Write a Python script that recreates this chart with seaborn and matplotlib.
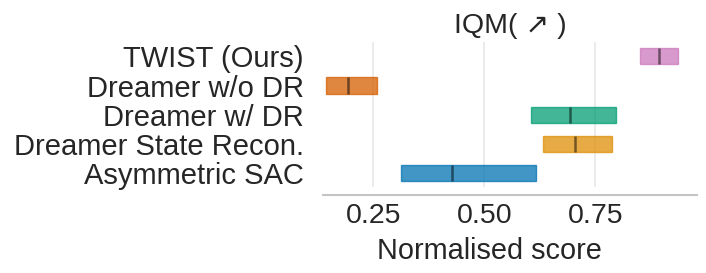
import matplotlib
matplotlib.use("Agg")
import matplotlib.pyplot as plt
import seaborn as sns

algorithms = ["Asymmetric SAC", "Dreamer State Recon.", "Dreamer w/ DR", "Dreamer w/o DR", "TWIST (Ours)"]
lower = [0.312, 0.633, 0.605, 0.143, 0.850]
upper = [0.616, 0.787, 0.796, 0.257, 0.936]
point = [0.426, 0.705, 0.693, 0.192, 0.893]
xticks = [0.25, 0.50, 0.75]

sns.set_style("white")
plt.rcParams["font.family"] = ["Liberation Sans", "DejaVu Sans"]

cb = sns.color_palette("colorblind")
colors = [cb[0], cb[1], cb[2], cb[3], cb[4]]

fig = plt.figure(figsize=(7.06, 2.73), dpi=100)
ax = fig.add_axes([0.458, 0.316, 0.529, 0.531])

for i, alg in enumerate(algorithms):
    ax.barh(y=i, width=upper[i] - lower[i], left=lower[i], height=0.55,
            color=colors[i], alpha=0.75, edgecolor=(*colors[i], 0.3), linewidth=1, zorder=2)
    ax.vlines(x=point[i], ymin=i - 0.275, ymax=i + 0.275, color="k", alpha=0.5, linewidth=1.8, zorder=3)

ax.set_yticks(range(len(algorithms)))
ax.set_yticklabels(algorithms)
ax.set_xticks(xticks)
ax.set_xticklabels([f"{t:.2f}" for t in xticks])
ax.set_xlim(0.137, 0.979)
ax.set_ylim(-0.47, 4.5)
ax.tick_params(axis="both", length=0, colors="#262626")
ax.tick_params(axis="y", pad=14, labelsize=21.0)
ax.tick_params(axis="x", pad=6, labelsize=20.5)
ax.grid(axis="x", color="#e8e8e8", linewidth=1.2, zorder=0)
ax.set_axisbelow(True)
sns.despine(ax=ax, left=True, offset={"bottom": 6})
ax.spines["bottom"].set_color("#c4c4c4")
ax.spines["bottom"].set_linewidth(1.5)
ax.set_xlabel("Normalised score", fontsize=20.8, color="#262626")
ax.xaxis.set_label_coords(0.446, -0.35)
ax.xaxis.label.set_va("top")
ax.set_title("IQM( \u2197 )", fontsize=20.5, color="#262626", pad=6)

fig.savefig("out.png", dpi=100)
